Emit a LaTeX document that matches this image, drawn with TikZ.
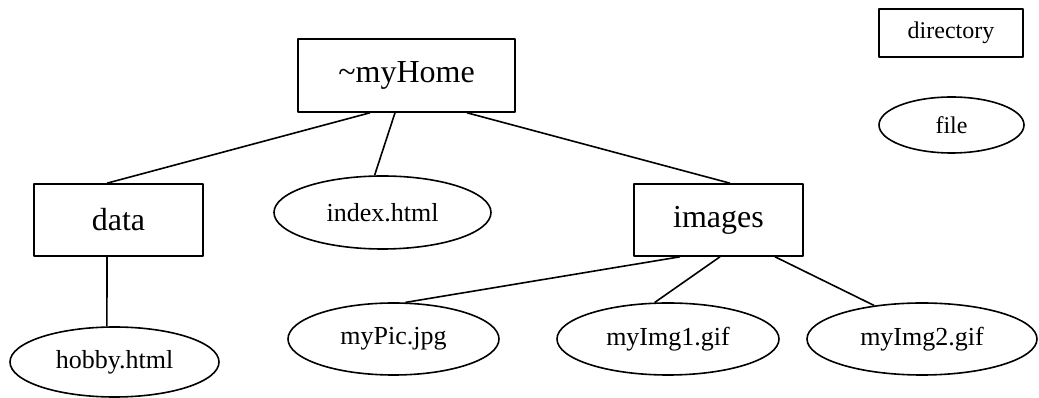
\documentclass[tikz,border=0pt]{standalone}
\usepackage{fontspec}
\setmainfont{Liberation Serif}
\usetikzlibrary{shapes.geometric}
\tikzset{
  dirnode/.style={draw,rectangle,inner sep=0pt,font=\fontsize{32}{36}\selectfont},
  filenode/.style={draw,ellipse,inner sep=0pt,font=\fontsize{26}{30}\selectfont},
  keybox/.style={draw,rectangle,inner sep=0pt,font=\fontsize{24}{28}\selectfont},
  keyfile/.style={draw,ellipse,inner sep=0pt,font=\fontsize{24}{28}\selectfont}
}
\begin{document}
\begin{tikzpicture}[x=1pt,y=1pt,line join=bevel]
  \pgfsetlinewidth{1.6pt}
  \useasboundingbox (0,0) rectangle (1039,398);
%%
  % Node: home
  \node[dirnode,minimum width=217pt,minimum height=73pt] (home) at (406.5,322.5) {\textasciitilde myHome};
  % Node: data
  \node[dirnode,minimum width=169pt,minimum height=72pt] (data) at (118.5,178) {data};
  % Node: index
  \node[filenode,minimum width=217pt,minimum height=73pt] (index) at (382.5,185.5) {index.html};
  % Node: images
  \node[dirnode,minimum width=169pt,minimum height=72pt] (images) at (718.5,178) {images};
  % Node: hobby
  \node[filenode,minimum width=209pt,minimum height=70pt] (hobby) at (114.5,36) {hobby.html};
  % Node: pic
  \node[filenode,minimum width=211pt,minimum height=72pt] (pic) at (393.5,59) {myPic.jpg};
  % Node: img1
  \node[filenode,minimum width=222pt,minimum height=72pt] (img1) at (668,59) {myImg1.gif};
  % Node: img2
  \node[filenode,minimum width=230pt,minimum height=72pt] (img2) at (922,59) {myImg2.gif};
  % Node: keydir
  \node[keybox,minimum width=144pt,minimum height=48pt] (keydir) at (951,365) {directory};
  % Node: keyfile
  \node[keyfile,minimum width=145pt,minimum height=56pt] (keyfile) at (951.5,273) {file};
%%
  % Edge: home -> data
  \draw ([xshift=-36.5pt]home.south) -- ([xshift=-11.5pt]data.north);
  % Edge: home -> index
  \draw ([xshift=-11.5pt]home.south) -- (index.102);
  % Edge: home -> images
  \draw ([xshift=60.5pt]home.south) -- ([xshift=11.5pt]images.north);
  % Edge: data -> hobby
  \draw ([xshift=-11.5pt]data.south) -- (hobby.102);
  % Edge: images -> pic
  \draw ([xshift=-38.5pt]images.south) -- (pic.72);
  % Edge: images -> img1
  \draw ([xshift=1.5pt]images.south) -- (img1.110);
  % Edge: images -> img2
  \draw ([xshift=56.5pt]images.south) -- (img2.145);
%
\end{tikzpicture}
\end{document}
